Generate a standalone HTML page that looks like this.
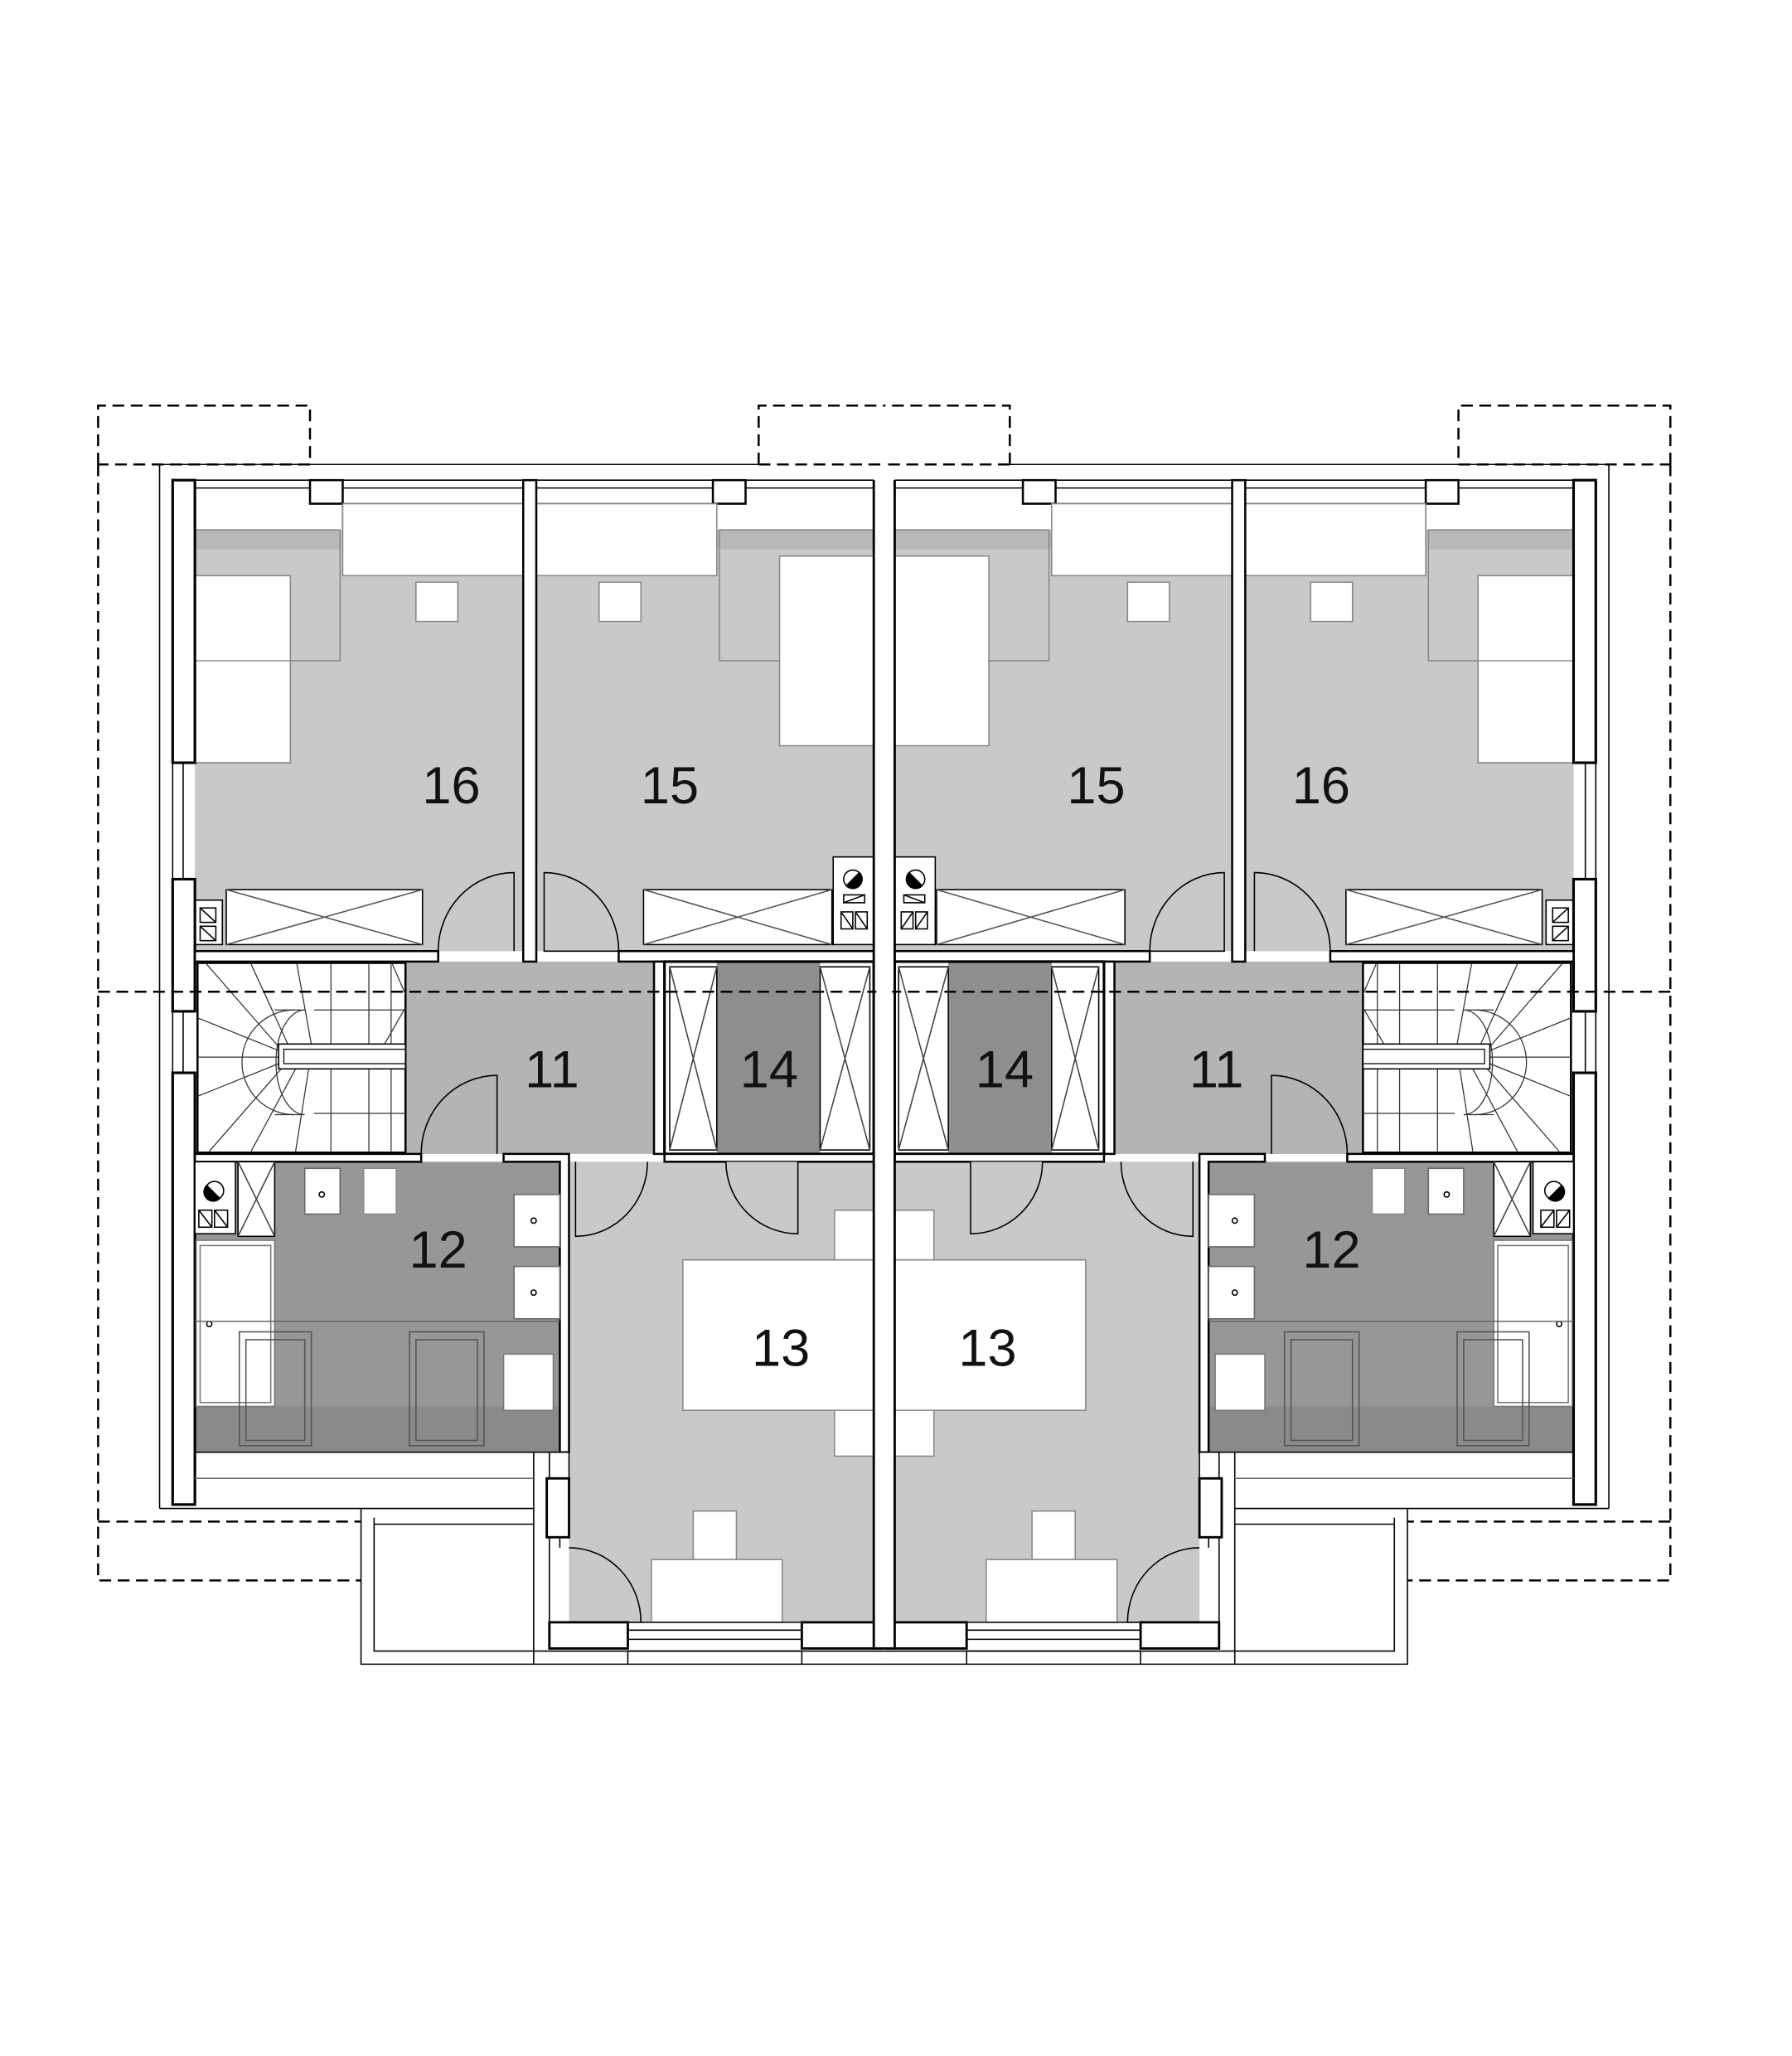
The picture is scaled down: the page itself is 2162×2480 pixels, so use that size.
<!DOCTYPE html>
<html><head><meta charset="utf-8"><style>
html,body{margin:0;padding:0;background:#fff;}
svg{display:block;}
text{font-family:"Liberation Sans",Arial,sans-serif;font-size:40px;fill:#111;text-anchor:middle;}
</style></head><body>
<svg width="2162" height="2480" viewBox="0 0 1370 1571.5" preserveAspectRatio="none" xmlns="http://www.w3.org/2000/svg">
<defs>
<g id="half" stroke="#000" stroke-width="1" fill="none">
  <rect x="149" y="405" width="251" height="322" fill="#c9c9c9" stroke="none"/>
  <rect x="410" y="405" width="258" height="322" fill="#c9c9c9" stroke="none"/>
  <rect x="149" y="405" width="111" height="15" fill="#b9b9b9" stroke="none"/>
  <rect x="548" y="405" width="120" height="15" fill="#b9b9b9" stroke="none"/>
  <rect x="310" y="735" width="190" height="147" fill="#b4b4b4" stroke="none"/>
  <rect x="548" y="735" width="79" height="146" fill="#8e8e8e" stroke="none"/>
  <rect x="149" y="888" width="279" height="222" fill="#979797" stroke="none"/>
  <rect x="149" y="1075" width="279" height="35" fill="#8a8a8a" stroke="none"/>
  <rect x="435" y="888" width="233" height="352" fill="#c9c9c9" stroke="none"/>

  <g stroke-dasharray="9,5" stroke-width="1.6">
    <path d="M75,355 V310 H237 V355 H75"/>
    <path d="M580,355 V310 H676 M580,355 H676"/>
    <path d="M75,355 V1208 H276 M75,1163 H276"/>
  </g>
  <path d="M122,1153 V355 H580"/>
  <path d="M122,1153 H408"/>
  <path d="M276,1153 V1272 H676"/>
  <path d="M286,1160 V1262 H408 M286,1165 H408"/>
  <path d="M408,1110 V1272"/>

  <path d="M149,367 H668 M149,373 H668 M262,385 H400 M410,385 H548"/>
  <rect x="237" y="367" width="25" height="18" fill="#fff" stroke-width="1.6"/>
  <rect x="545" y="367" width="25" height="18" fill="#fff" stroke-width="1.6"/>
  <path d="M149,385 V405 M262,385 V405"/>

  <rect x="149" y="405" width="111" height="100" stroke="#888"/>
  <rect x="149" y="440" width="73" height="143" fill="#fff" stroke="#888"/>
  <path d="M149,505 H222" stroke="#999"/>
  <rect x="262" y="385" width="138" height="55" fill="#fff" stroke="#888"/>
  <rect x="318" y="445" width="32" height="30" fill="#fff" stroke="#888"/>
  <rect x="173" y="680" width="150" height="42" fill="#fff"/>
  <path d="M173,680 L323,722 M323,680 L173,722" stroke="#555"/>
  <rect x="149" y="688" width="21" height="34" fill="#fff"/>
  <rect x="153" y="694" width="12" height="11"/><rect x="153" y="708" width="12" height="11"/>
  <path d="M153,694 L165,705 M153,708 L165,719"/>
  <path d="M335,727 A58,60 0 0 1 393,667 V727" fill="#c9c9c9"/>

  <rect x="550" y="405" width="118" height="100" stroke="#888"/>
  <rect x="410" y="385" width="138" height="55" fill="#fff" stroke="#888"/>
  <rect x="458" y="445" width="32" height="30" fill="#fff" stroke="#888"/>
  <rect x="596" y="425" width="72" height="145" fill="#fff" stroke="#888"/>
  <rect x="492" y="680" width="144" height="42" fill="#fff"/>
  <path d="M492,680 L636,722 M636,680 L492,722" stroke="#555"/>
  <path d="M416,667 A57,60 0 0 1 473,727 H416 Z" fill="#c9c9c9"/>
  <rect x="637" y="655" width="31" height="67" fill="#fff"/>
  <circle cx="652" cy="672" r="7" fill="#fff"/>
  <path d="M647,677 A7,7 0 0 0 657,667 Z" fill="#000"/>
  <rect x="645" y="684" width="16" height="6"/><path d="M645,690 L661,684"/>
  <rect x="643" y="697" width="9" height="13"/><rect x="654" y="697" width="9" height="13"/>
  <path d="M643,697 L652,710 M654,697 L663,710"/>

  <rect x="132" y="367" width="17" height="216" fill="#fff" stroke-width="2"/>
  <path d="M132,583 V672 M140,583 V672"/>
  <rect x="132" y="672" width="17" height="101" fill="#fff" stroke-width="2"/>
  <path d="M132,773 V820 M140,773 V820"/>
  <rect x="132" y="820" width="17" height="330" fill="#fff" stroke-width="2"/>

  <rect x="400" y="367" width="10" height="368" fill="#fff" stroke-width="1.6"/>
  <path d="M149,727 H335 V735 H149 Z" fill="#fff" stroke-width="1.6"/>
  <path d="M473,727 H668 V735 H473 Z" fill="#fff" stroke-width="1.6"/>

  <rect x="151" y="736" width="159" height="145" fill="#fff" stroke-width="1.6"/>
  <g stroke="#333" stroke-width="0.8">
    <path d="M253,737 V880 M282,737 V880 M299,737 V880"/>
    <path d="M240,772 H310 M240,851 H310"/>
    <path d="M233,772 A22,40 0 0 0 233,852 M210,772 H233 M210,852 H233"/>
    <path d="M225,772 A40,40 0 0 0 225,852"/>
    <path d="M158,737 L213,800 M192,737 L220,798 M227,737 L238,798 M151,778 L213,803 M151,808 H213 M151,838 L213,813 M160,880 L215,817 M192,880 L226,817 M226,880 L236,817 M300,737 L310,760 M310,770 L294,798"/>
  </g>
  <rect x="213" y="798" width="97" height="19" fill="#fff" stroke-width="1"/>
  <rect x="217" y="802" width="93" height="11" fill="none" stroke-width="0.8"/>

  <path d="M322,882 A58,60 0 0 1 380,822 V882" fill="#b4b4b4"/>
  <path d="M149,882 H322 V888 H149 Z" fill="#fff" stroke-width="1.6"/>
  <path d="M385,882 H435 V1110 H428 V888 H385 Z" fill="#fff" stroke-width="1.6"/>
  <path d="M500,735 H508 V882 H500 Z" fill="#fff" stroke-width="1.6"/>
  <rect x="508" y="735" width="160" height="147" stroke-width="2"/>
  <rect x="512" y="739" width="36" height="140" fill="#fff"/>
  <path d="M512,739 L548,879 M548,739 L512,879" stroke="#444"/>
  <rect x="627" y="739" width="38" height="140" fill="#fff"/>
  <path d="M627,739 L665,879 M665,739 L627,879" stroke="#444"/>
  <path d="M508,882 H668 V888 H508 Z" fill="#fff" stroke-width="1.6"/>

  <rect x="149" y="888" width="31" height="55" fill="#fff"/>
  <circle cx="164" cy="910" r="7" fill="#fff"/>
  <path d="M158,906 A7,7 0 0 0 168,916 Z" fill="#000"/>
  <rect x="152" y="925" width="10" height="13"/><rect x="164" y="925" width="10" height="13"/>
  <path d="M152,925 L162,938 M164,925 L174,938"/>
  <rect x="182" y="888" width="28" height="57" fill="#fff"/>
  <path d="M182,888 L210,945 M210,888 L182,945" stroke="#444"/>
  <rect x="233" y="893" width="27" height="35" fill="#fff" stroke="#666"/>
  <circle cx="246" cy="913" r="2"/>
  <rect x="278" y="893" width="25" height="35" fill="#fff" stroke="#888"/>
  <rect x="393" y="913" width="35" height="40" fill="#fff" stroke="#666"/>
  <circle cx="408" cy="933" r="2"/>
  <rect x="393" y="968" width="35" height="40" fill="#fff" stroke="#666"/>
  <circle cx="408" cy="988" r="2"/>
  <rect x="150" y="948" width="60" height="127" fill="#fff" stroke="#777"/>
  <rect x="153" y="952" width="54" height="120" fill="none" stroke="#777"/>
  <circle cx="160" cy="1012" r="2"/>
  <path d="M149,1010 H428" stroke="#666"/>
  <rect x="385" y="1035" width="38" height="43" fill="#fff" stroke="#777"/>
  <rect x="183" y="1018" width="55" height="87" stroke="#555"/>
  <rect x="188" y="1024" width="45" height="77" stroke="#555"/>
  <rect x="313" y="1018" width="57" height="87" stroke="#555"/>
  <rect x="318" y="1024" width="47" height="77" stroke="#555"/>
  <path d="M149,1110 H428"/>
  <path d="M149,1130 H408" stroke="#666"/>

  <path d="M440,888 V945 A55,57 0 0 0 495,888" fill="#c9c9c9"/>
  <path d="M610,888 V943 A55,55 0 0 1 555,888" fill="#c9c9c9"/>
  <rect x="638" y="925" width="30" height="38" fill="#fff" stroke="#888"/>
  <rect x="638" y="1078" width="30" height="35" fill="#fff" stroke="#888"/>
  <rect x="522" y="963" width="146" height="115" fill="#fff" stroke="#888"/>
  <rect x="530" y="1155" width="33" height="37" fill="#fff" stroke="#888"/>
  <rect x="498" y="1192" width="100" height="48" fill="#fff" stroke="#888"/>
  <path d="M435,1183 A55,57 0 0 1 490,1240 H435" fill="#c9c9c9"/>
  <rect x="420" y="1110" width="15" height="20" fill="#fff"/>
  <rect x="418" y="1130" width="17" height="45" fill="#fff" stroke-width="1.8"/>
  <path d="M420,1175 V1240 M428,1175 V1183"/>
  <rect x="420" y="1240" width="60" height="20" fill="#fff" stroke-width="1.8"/>
  <path d="M480,1240 H613 M480,1246 H613 M480,1253 H613 M480,1262 H613"/>
  <rect x="613" y="1240" width="55" height="20" fill="#fff" stroke-width="1.8"/>
  <path d="M408,1262 H676 M613,1262 V1272 M480,1262 V1272"/>
  <rect x="668" y="367" width="8" height="873" fill="#fff" stroke="none"/>
  <path d="M668,367 V1240 M668,1260 H676" stroke-width="1.8"/>
  <path d="M75,758 H676" stroke-dasharray="9,5" stroke-width="1.6"/>
</g>
</defs>
<use href="#half"/>
<use href="#half" transform="translate(1352,0) scale(-1,1)"/>
<rect x="670" y="368" width="12" height="870" fill="#fff"/>
<text x="345" y="614">16</text>
<text x="512" y="614">15</text>
<text x="838" y="614">15</text>
<text x="1010" y="614">16</text>
<text x="422" y="831">11</text>
<text x="588" y="831">14</text>
<text x="768" y="831">14</text>
<text x="930" y="831">11</text>
<text x="335" y="969">12</text>
<text x="1018" y="969">12</text>
<text x="597" y="1044">13</text>
<text x="755" y="1044">13</text>
</svg>
</body></html>
